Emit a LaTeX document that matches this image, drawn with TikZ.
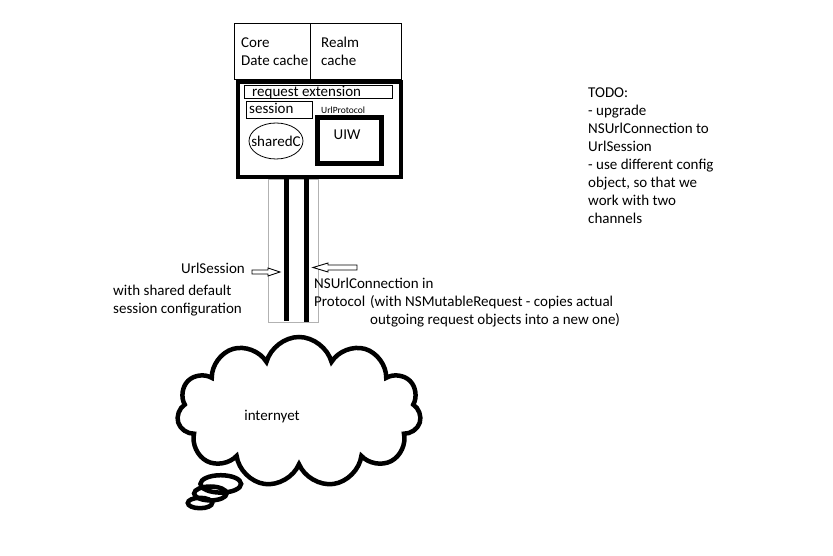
\documentclass[tikz,border=0pt]{standalone}
\usepackage{fontspec}
\setmainfont{Carlito}
\usetikzlibrary{shapes.geometric,shapes.callouts,positioning}

\begin{document}
\begin{tikzpicture}[x=1pt,y=-1pt,
   txt/.style={inner sep=0pt,anchor=base west,font=\fontsize{15}{18}\selectfont},
   thinbox/.style={draw=black,line width=1pt},
   thickbox/.style={draw=black,line width=4pt},
   pipeline/.style={line width=5pt},
   hollow/.style={draw=black,line width=0.9pt,fill=white,line join=miter}]
   \fill[white] (0,0) rectangle (833,556);
   \useasboundingbox (0,0) rectangle (833,556);
   % caches
   \draw[thinbox] (234,24) rectangle (310,80);
   \draw[thinbox] (310,24) rectangle (401,80);
   \node[txt] (core)  at (241,48) {Core};
   \node[txt] (cdc)   at (241,66) {Date cache};
   \node[txt] (realm) at (321,48) {Realm};
   \node[txt] (rc)    at (321,66) {cache};
   % main box
   \draw[thickbox] (238,82) rectangle (401,177);
   \node[txt] (reqext) at (252,97) {request extension};
   \draw[thinbox] (244,86) rectangle (392,99);
   \draw[thinbox] (246,102) rectangle (312,119);
   \node[txt] (session) at (249,114) {session};
   \node[txt,font=\fontsize{9.5}{10}\selectfont] (urlprot) at (321,114) {UrlProtocol};
   \draw[line width=0.8pt] (276,141) ellipse (27 and 18);
   \node[txt,anchor=base] (shared) at (276,147) {sharedC};
   \draw[line width=5pt] (317,118) rectangle (381,164);
   \node[txt,anchor=base] (uiw) at (347,140) {UIW};
   % channels
   \draw[black!30,line width=0.8pt] (268,179) rectangle (318,322);
   \coordinate (c1top) at (286,179);
   \coordinate (c1bot) at (286,321);
   \coordinate (c2top) at (306,179);
   \coordinate (c2bot) at (306,322);
   \draw[pipeline] (c1top) -- (c1bot);
   \draw[pipeline] (c2top) -- (c2bot);
   \draw[hollow] (252,270) -- (268,270) -- (268,268) -- (280,272)
     -- (268,276) -- (268,274) -- (252,274) -- cycle;
   \draw[hollow] (357,265) -- (328,265) -- (328,263) -- (313,267.5)
     -- (328,272) -- (328,270) -- (357,270) -- cycle;
   \node[txt,anchor=base east] (us) at (245,274) {UrlSession};
   \node[txt] (us2) at (113,295) {with shared default};
   \node[txt] (us3) at (113,313) {session configuration};
   \node[txt] (nsc) at (314,288) {NSUrlConnection in};
   \node[txt] (prot) at (314,306) {Protocol};
   \node[txt] (mut) at (370,306) {(with NSMutableRequest - copies actual};
   \node[txt] (mut2) at (370,324) {outgoing request objects into a new one)};
   % todo
   \node[txt,anchor=north west,align=left] (todo) at (588,88)
     {TODO:\\- upgrade\\NSUrlConnection to\\UrlSession\\- use different config\\object, so that we\\work with two\\channels};
   % cloud
   \node[cloud callout,draw=black,line width=4.5pt,cloud puffs=11,aspect=1.6,
     minimum width=244pt,minimum height=150pt,callout pointer segments=3,
     callout absolute pointer={(200,503)}] (cloud) at (299,412) {};
   \node[txt,anchor=base] (inet) at (272,420) {internyet};
\end{tikzpicture}
\end{document}
